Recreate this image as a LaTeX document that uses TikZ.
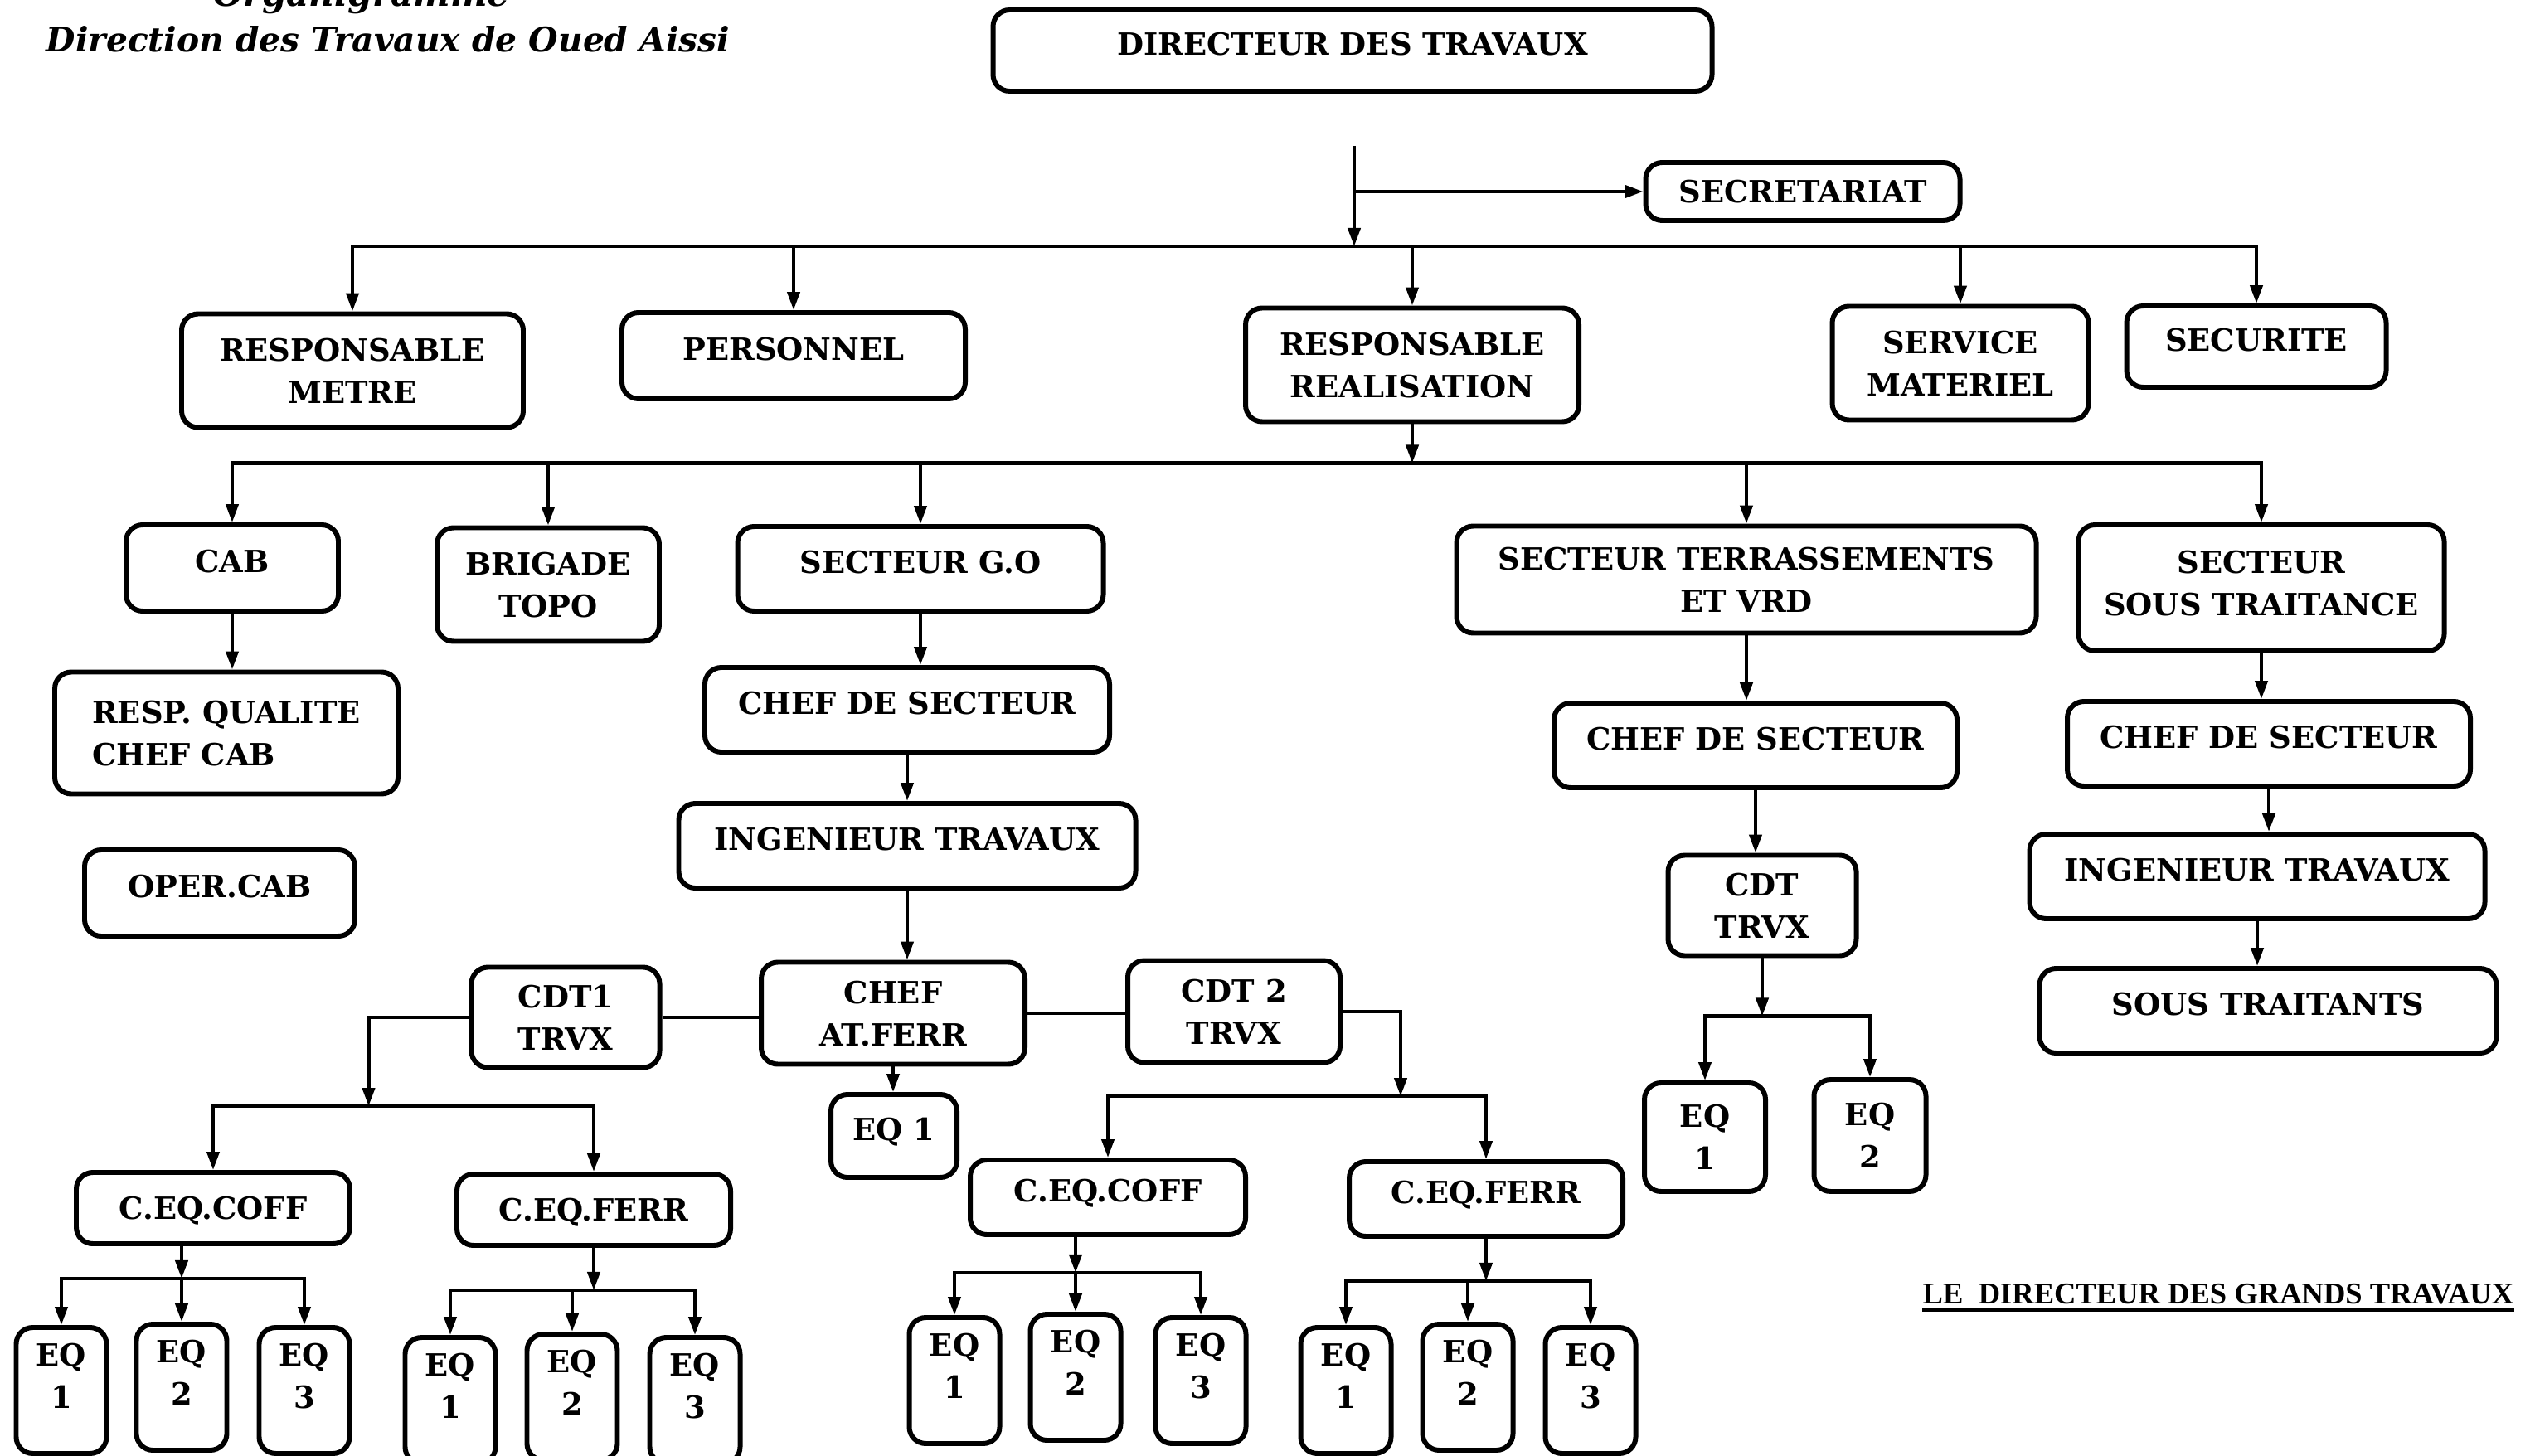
\documentclass[tikz,border=0pt]{standalone}
\usepackage{fontspec}
\setmainfont{DejaVu Serif}
\newfontfamily\timesfont{Liberation Serif}
\usetikzlibrary{arrows.meta}

\begin{document}
\begin{tikzpicture}[>={Triangle[length=2.2mm,width=1.5mm]},
    box/.style={draw, line width=1.7pt, rounded corners=0.2cm, align=center,
        font=\fontsize{10.5}{14.5}\selectfont\bfseries, inner sep=2pt, text depth=0.16cm},
    twoline/.style={box, text depth=0pt},
    eqbox/.style={box, anchor=north, minimum width=1.09cm, minimum height=1.52cm, text depth=0.36cm},
    link/.style={line width=1.2pt}]
    \useasboundingbox (0,0) rectangle (30.63,-17.56);

    % titre
    \node[anchor=base, font=\fontsize{12}{14}\selectfont\bfseries\itshape] (org) at (4.36,-0.08) {Organigramme};
    \node[font=\fontsize{11.6}{14}\selectfont\bfseries\itshape] (dta) at (4.68,-0.47) {Direction des Travaux de Oued Aissi};

    % direction
    \node[box, minimum width=8.67cm, minimum height=0.98cm] (dir) at (16.31,-0.61) {DIRECTEUR DES TRAVAUX};
    \node[box, minimum width=3.79cm, minimum height=0.70cm, text depth=0pt] (sec) at (21.74,-2.31) {SECRETARIAT};

    \node[twoline, minimum width=4.12cm, minimum height=1.37cm] (rm) at (4.25,-4.47) {RESPONSABLE\\METRE};
    \node[box, minimum width=4.14cm, minimum height=1.04cm] (pers) at (9.57,-4.29) {PERSONNEL};
    \node[twoline, minimum width=4.02cm, minimum height=1.37cm] (rr) at (17.03,-4.40) {RESPONSABLE\\REALISATION};
    \node[twoline, minimum width=3.09cm, minimum height=1.37cm] (sm) at (23.64,-4.38) {SERVICE\\MATERIEL};
    \node[box, minimum width=3.13cm, minimum height=0.98cm] (secu) at (27.21,-4.18) {SECURITE};

    % secteurs
    \node[box, minimum width=2.56cm, minimum height=1.04cm] (cab) at (2.80,-6.85) {CAB};
    \node[twoline, minimum width=2.68cm, minimum height=1.37cm] (bt) at (6.61,-7.05) {BRIGADE\\TOPO};
    \node[box, minimum width=4.41cm, minimum height=1.02cm] (sgo) at (11.10,-6.86) {SECTEUR G.O};
    \node[twoline, minimum width=6.99cm, minimum height=1.29cm] (sterr) at (21.06,-6.99) {SECTEUR TERRASSEMENTS\\ET VRD};
    \node[twoline, minimum width=4.41cm, minimum height=1.52cm, text depth=0.12cm] (sst) at (27.27,-7.09) {SECTEUR\\SOUS TRAITANCE};

    % CAB
    \node[twoline, align=left, minimum width=4.14cm, minimum height=1.47cm] (rq) at (2.73,-8.84) {RESP. QUALITE\\CHEF CAB};
    \node[box, minimum width=3.26cm, minimum height=1.04cm] (oper) at (2.65,-10.77) {OPER.CAB};

    % G.O
    \node[box, minimum width=4.88cm, minimum height=1.02cm] (cs1) at (10.94,-8.56) {CHEF DE SECTEUR};
    \node[box, minimum width=5.51cm, minimum height=1.02cm] (it1) at (10.94,-10.20) {INGENIEUR TRAVAUX};
    \node[twoline, minimum width=3.18cm, minimum height=1.23cm] (caf) at (10.77,-12.22) {CHEF\\AT.FERR};
    \node[twoline, minimum width=2.27cm, minimum height=1.21cm] (cdt1) at (6.82,-12.27) {CDT1\\TRVX};
    \node[twoline, minimum width=2.56cm, minimum height=1.23cm] (cdt2) at (14.88,-12.20) {CDT 2\\TRVX};
    \node[box, minimum width=1.52cm, minimum height=1.00cm] (eqa) at (10.78,-13.70) {EQ 1};
    \node[box, minimum width=3.30cm, minimum height=0.86cm, text depth=0pt] (co1) at (2.57,-14.57) {C.EQ.COFF};
    \node[box, minimum width=3.30cm, minimum height=0.86cm, text depth=0pt] (fe1) at (7.16,-14.59) {C.EQ.FERR};
    \node[box, minimum width=3.32cm, minimum height=0.90cm] (co2) at (13.36,-14.44) {C.EQ.COFF};
    \node[box, minimum width=3.30cm, minimum height=0.90cm] (fe2) at (17.92,-14.46) {C.EQ.FERR};

    \node[eqbox] (e11) at (0.74,-15.98) {EQ\\1};
    \node[eqbox] (e12) at (2.19,-15.94) {EQ\\2};
    \node[eqbox] (e13) at (3.67,-15.98) {EQ\\3};
    \node[eqbox] (e14) at (5.43,-16.10) {EQ\\1};
    \node[eqbox] (e15) at (6.90,-16.06) {EQ\\2};
    \node[eqbox] (e16) at (8.38,-16.10) {EQ\\3};
    \node[eqbox] (e21) at (11.51,-15.86) {EQ\\1};
    \node[eqbox] (e22) at (12.97,-15.82) {EQ\\2};
    \node[eqbox] (e23) at (14.48,-15.86) {EQ\\3};
    \node[eqbox] (e24) at (16.23,-15.98) {EQ\\1};
    \node[eqbox] (e25) at (17.70,-15.94) {EQ\\2};
    \node[eqbox] (e26) at (19.18,-15.98) {EQ\\3};

    % terrassements
    \node[box, minimum width=4.86cm, minimum height=1.02cm] (cs2) at (21.17,-8.99) {CHEF DE SECTEUR};
    \node[twoline, minimum width=2.27cm, minimum height=1.21cm] (cdt3) at (21.25,-10.92) {CDT\\TRVX};
    \node[twoline, anchor=north, minimum width=1.46cm, minimum height=1.31cm] (t1) at (20.56,-13.03) {EQ\\1};
    \node[twoline, anchor=north, minimum width=1.35cm, minimum height=1.35cm] (t2) at (22.55,-12.99) {EQ\\2};

    % sous traitance
    \node[box, minimum width=4.86cm, minimum height=1.02cm] (cs3) at (27.36,-8.97) {CHEF DE SECTEUR};
    \node[box, minimum width=5.49cm, minimum height=1.02cm] (it2) at (27.22,-10.57) {INGENIEUR TRAVAUX};
    \node[box, minimum width=5.51cm, minimum height=1.02cm] (stt) at (27.35,-12.19) {SOUS TRAITANTS};

    \node[inner sep=0pt, font=\timesfont\bfseries\fontsize{10.4}{12}\selectfont] (sig) at (26.75,-15.61) {LE\ \ DIRECTEUR DES GRANDS TRAVAUX};
    \draw[line width=1pt] ([yshift=-2pt]sig.base west) -- ([yshift=-2pt]sig.base east);

    % liaisons
    \coordinate (top) at (16.33,-1.76);
    \draw[link, ->] (top) -- ++(0,-1.21) coordinate (bus1);
    \draw[link, ->] (top |- sec) -- (sec.west);
    \draw[link, ->] (bus1) -| (rm.north);
    \draw[link, ->] (bus1) -| (pers.north);
    \draw[link, ->] (bus1) -| (rr.north);
    \draw[link, ->] (bus1) -| (sm.north);
    \draw[link, ->] (bus1) -| (secu.north);

    \draw[link, ->] (rr.south) -- ++(0,-0.47) coordinate (bus2);
    \draw[link, ->] (bus2) -| (cab.north);
    \draw[link, ->] (bus2) -| (bt.north);
    \draw[link, ->] (bus2) -| (sgo.north);
    \draw[link, ->] (bus2) -| (sterr.north);
    \draw[link, ->] (bus2) -| (sst.north);

    \draw[link, ->] (cab.south) -- (cab.south |- rq.north);

    \draw[link, ->] (sgo.south) -- (sgo.south |- cs1.north);
    \draw[link, ->] (cs1.south) -- (cs1.south |- it1.north);
    \draw[link, ->] (it1.south) -- (it1.south |- caf.north);
    \draw[link] (cdt1.east) -- (cdt1.east -| caf.west);
    \draw[link] (caf.east) -- (caf.east -| cdt2.west);
    \draw[link, ->] (caf.south) -- (caf.south |- eqa.north);

    \draw[link, ->] (cdt1.west) -| ++(-1.21,-1.07) coordinate (bus3);
    \draw[link, ->] (bus3) -| (co1.north);
    \draw[link, ->] (bus3) -| (fe1.north);
    \draw[link, ->] (cdt2.east) -| ++(0.70,-1.02) coordinate (bus4);
    \draw[link, ->] (bus4) -| (co2.north);
    \draw[link, ->] (bus4) -| (fe2.north);

    \draw[link, ->] (co1.south -| e12.north) -- ++(0,-0.39) coordinate (b11);
    \draw[link, ->] (b11) -| (e11.north);
    \draw[link, ->] (b11) -- (e12.north);
    \draw[link, ->] (b11) -| (e13.north);
    \draw[link, ->] (fe1.south) -- ++(0,-0.51) coordinate (b12);
    \draw[link, ->] (b12) -| (e14.north);
    \draw[link, ->] (b12) -| (e15.north);
    \draw[link, ->] (b12) -| (e16.north);
    \draw[link, ->] (co2.south -| e22.north) -- ++(0,-0.43) coordinate (b21);
    \draw[link, ->] (b21) -| (e21.north);
    \draw[link, ->] (b21) -- (e22.north);
    \draw[link, ->] (b21) -| (e23.north);
    \draw[link, ->] (fe2.south) -- ++(0,-0.51) coordinate (b22);
    \draw[link, ->] (b22) -| (e24.north);
    \draw[link, ->] (b22) -| (e25.north);
    \draw[link, ->] (b22) -| (e26.north);

    \draw[link, ->] (sterr.south) -- (sterr.south |- cs2.north);
    \draw[link, ->] (cs2.south) -- (cs2.south |- cdt3.north);
    \draw[link, ->] (cdt3.south) -- ++(0,-0.70) coordinate (b3);
    \draw[link, ->] (b3) -| (t1.north);
    \draw[link, ->] (b3) -| (t2.north);

    \draw[link, ->] (sst.south) -- (sst.south |- cs3.north);
    \draw[link, ->] (cs3.south) -- (cs3.south |- it2.north);
    \draw[link, ->] (it2.south) -- (it2.south |- stt.north);
\end{tikzpicture}
\end{document}
